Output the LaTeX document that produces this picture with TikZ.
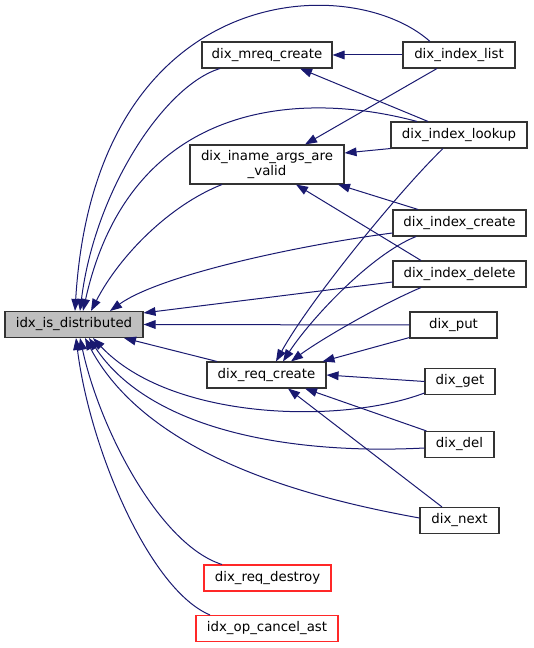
\documentclass[tikz,border=0pt]{standalone}
\usepackage{fontspec}
\setmainfont{DejaVu Sans}
\usetikzlibrary{arrows.meta,calc}
\definecolor{dxedge}{RGB}{25,25,112}
\definecolor{dxgray}{RGB}{191,191,191}
\definecolor{dxred}{RGB}{255,40,40}
\tikzset{
  dx_fn/.style={
    draw=black!80, rectangle, fill=white, line width=0.8pt,
    minimum height=19.5pt, inner sep=0pt,
    text centered, font=\fontsize{10}{11.5}\selectfont
  },
  dx_root/.style={dx_fn, fill=dxgray},
  dx_ext/.style={dx_fn, draw=dxred},
  dx_arr/.style={-{Triangle[length=9pt,width=6.5pt]}, draw=dxedge, line width=0.75pt},
}
\begin{document}
\begin{tikzpicture}[x=0.75pt, y=0.75pt]
\useasboundingbox (0,0) rectangle (533,648);

\node[dx_root, minimum width=103.5pt]  (idx)     at (74,323.5)  {idx\_is\_distributed};
\node[dx_fn,   minimum width=97.5pt]   (mreq)    at (267,593)   {dix\_mreq\_create};
\node[dx_fn,   minimum width=115.5pt, minimum height=29.25pt, align=center]
                                       (iname)   at (267,483.5) {dix\_iname\_args\_are\\\_valid};
\node[dx_fn,   minimum width=89.25pt]  (reqc)    at (266.5,273) {dix\_req\_create};
\node[dx_fn,   minimum width=84pt]     (list)    at (459,593)   {dix\_index\_list};
\node[dx_fn,   minimum width=102pt]    (lookup)  at (459,513)   {dix\_index\_lookup};
\node[dx_fn,   minimum width=99.75pt]  (icreate) at (459.5,425) {dix\_index\_create};
\node[dx_fn,   minimum width=99.75pt]  (idelete) at (459.5,374) {dix\_index\_delete};
\node[dx_fn,   minimum width=65.25pt]  (put)     at (453.5,323) {dix\_put};
\node[dx_fn,   minimum width=52.5pt]   (get)     at (460,266.5) {dix\_get};
\node[dx_fn,   minimum width=51.75pt]  (del)     at (459.5,203.5) {dix\_del};
\node[dx_fn,   minimum width=59.25pt]  (next)    at (459.5,127.5) {dix\_next};
\node[dx_ext,  minimum width=95.25pt]  (destroy) at (267.5,70)  {dix\_req\_destroy};
\node[dx_ext,  minimum width=106.5pt]  (cancel)  at (267,19.5)  {idx\_op\_cancel\_ast};

% callers of idx_is_distributed
\draw[dx_arr] ($(list.north)+(-29,0)$) .. controls (350,678) and (95,668) .. ($(idx.north)+(1,0)$);
\draw[dx_arr] ($(mreq.south)+(-47,0)$) .. controls (165,563) and (95,458) .. ($(idx.north)+(6,0)$);
\draw[dx_arr] ($(lookup.north)+(-42,0)$) .. controls (300,558) and (130,548) .. ($(idx.north)+(9,0)$);
\draw[dx_arr] ($(iname.south)+(-45,0)$) .. controls (170,443) and (120,393) .. ($(idx.north)+(17,0)$);
\draw[dx_arr] ($(icreate.west)+(0,-10)$) .. controls (300,403) and (160,373) .. ($(idx.north)+(36,0)$);
\draw[dx_arr] ($(idelete.west)+(0,-8)$) -- ($(idx.north east)+(0,-2)$);
\draw[dx_arr] (put.west) -- (idx.east);
\draw[dx_arr] ($(reqc.north)+(-49.5,0)$) -- ($(idx.south)+(50,0)$);
\draw[dx_arr] ($(get.west)+(0,-11.5)$) .. controls (340,223) and (170,228) .. ($(idx.south)+(19,0)$);
\draw[dx_arr] ($(del.west)+(0,-3.5)$) .. controls (290,193) and (150,218) .. ($(idx.south)+(15,0)$);
\draw[dx_arr] ($(next.west)+(0,2.5)$) .. controls (320,148) and (150,188) .. ($(idx.south)+(11,0)$);
\draw[dx_arr] ($(destroy.north)+(-45.5,0)$) .. controls (160,103) and (100,218) .. ($(idx.south)+(6,0)$);
\draw[dx_arr] ($(cancel.north)+(-57,0)$) .. controls (150,58) and (90,198) .. ($(idx.south)+(2,0)$);

% other calls
\draw[dx_arr] (list.west) -- (mreq.east);
\draw[dx_arr] ($(list.south)+(-22,0)$) -- ($(iname.north)+(38,0)$);
\draw[dx_arr] ($(lookup.north)+(-31,0)$) -- ($(mreq.south)+(33,0)$);
\draw[dx_arr] (lookup.south west) -- ($(iname.east)+(0,11.5)$);
\draw[dx_arr] ($(lookup.south)+(-16,0)$) .. controls (400,458) and (310,348) .. ($(reqc.north)+(9.5,0)$);
\draw[dx_arr] ($(icreate.north)+(-41.5,0)$) -- ($(iname.south)+(71,0)$);
\draw[dx_arr] ($(icreate.south)+(-43.5,0)$) .. controls (370,393) and (310,328) .. ($(reqc.north)+(16.5,0)$);
\draw[dx_arr] ($(idelete.north)+(-38.5,0)$) -- ($(iname.south)+(29,0)$);
\draw[dx_arr] ($(idelete.south)+(-38.5,0)$) .. controls (380,343) and (320,308) .. ($(reqc.north)+(24.5,0)$);
\draw[dx_arr] ($(put.south west)+(0,1)$) -- ($(reqc.north east)+(-4,0)$);
\draw[dx_arr] (get.west) -- (reqc.east);
\draw[dx_arr] ($(del.north west)+(2,0)$) -- ($(reqc.south)+(38.5,0)$);
\draw[dx_arr] ($(next.north)+(-17.5,0)$) -- ($(reqc.south)+(21.5,0)$);

\end{tikzpicture}
\end{document}
